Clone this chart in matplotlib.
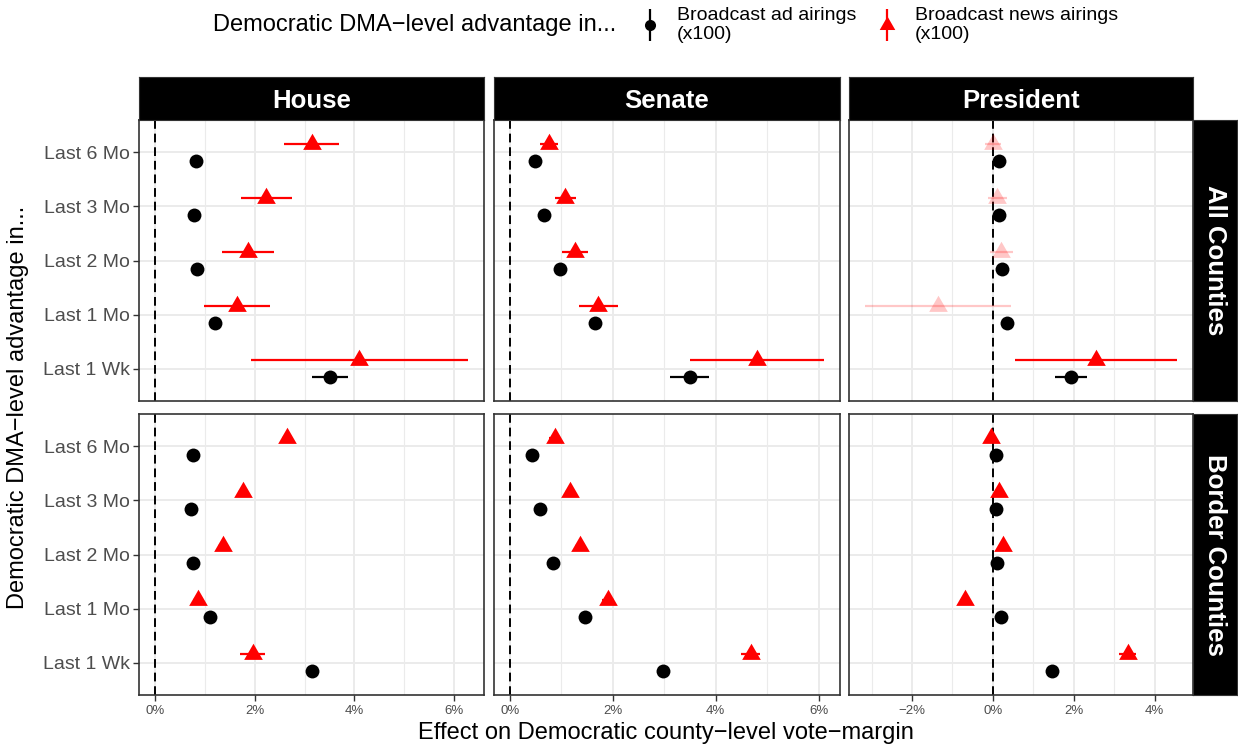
import matplotlib
matplotlib.use("Agg")
import matplotlib.pyplot as plt
from matplotlib.lines import Line2D
from matplotlib.path import Path
from matplotlib.ticker import FixedLocator, FuncFormatter
import numpy as np

plt.rcParams['font.family'] = ['Liberation Sans', 'DejaVu Sans']

periods = ["Last 6 Mo", "Last 3 Mo", "Last 2 Mo", "Last 1 Mo", "Last 1 Wk"]
offices = ["House", "Senate", "President"]
samples = ["All Counties", "Border Counties"]

# estimates in % and half-width of the interval, all counties
ad_all = {"House": [0.82, 0.78, 0.84, 1.20, 3.51],
          "Senate": [0.50, 0.66, 0.98, 1.65, 3.50],
          "President": [0.15, 0.15, 0.23, 0.36, 1.93]}
ad_all_err = {"House": [0.08, 0.08, 0.08, 0.10, 0.37],
              "Senate": [0.06, 0.06, 0.07, 0.08, 0.38],
              "President": [0.05, 0.05, 0.06, 0.08, 0.39]}
news_all = {"House": [3.14, 2.23, 1.86, 1.65, 4.10],
            "Senate": [0.76, 1.08, 1.27, 1.72, 4.81],
            "President": [0.01, 0.11, 0.21, -1.36, 2.55]}
news_all_err = {"House": [0.55, 0.51, 0.52, 0.66, 2.18],
                "Senate": [0.18, 0.21, 0.25, 0.38, 1.30],
                "President": [0.20, 0.23, 0.28, 1.81, 2.01]}

# border counties
ad_border = {"House": [0.77, 0.72, 0.77, 1.10, 3.14],
             "Senate": [0.44, 0.59, 0.85, 1.46, 2.98],
             "President": [0.07, 0.07, 0.11, 0.21, 1.46]}
ad_border_err = {"House": [0.05, 0.05, 0.05, 0.06, 0.08],
                 "Senate": [0.05, 0.05, 0.05, 0.06, 0.08],
                 "President": [0.03, 0.03, 0.03, 0.04, 0.06]}
news_border = {"House": [2.65, 1.76, 1.36, 0.86, 1.96],
               "Senate": [0.87, 1.17, 1.36, 1.91, 4.68],
               "President": [-0.04, 0.15, 0.25, -0.68, 3.33]}
news_border_err = {"House": [0.10, 0.10, 0.10, 0.10, 0.25],
                   "Senate": [0.10, 0.10, 0.10, 0.12, 0.18],
                   "President": [0.03, 0.08, 0.10, 0.10, 0.21]}

ad_data = [(ad_all, ad_all_err), (ad_border, ad_border_err)]
news_data = [(news_all, news_all_err), (news_border, news_border_err)]

W, H = 1238, 748
fig = plt.figure(figsize=(W / 100, H / 100), dpi=100)


def px_axes(x0, y0, x1, y1):
    return fig.add_axes([x0 / W, 1 - y1 / H, (x1 - x0) / W, (y1 - y0) / H])


col_px = [(139, 484), (494, 840), (849, 1193)]
row_px = [(120, 401), (414, 695)]

# equilateral triangle centred on its centroid, like ggplot shape 17
tri = Path([(0, 1), (-0.866, -0.5), (0.866, -0.5), (0, 1)],
           [Path.MOVETO, Path.LINETO, Path.LINETO, Path.CLOSEPOLY])

pct = FuncFormatter(lambda v, p: f"{v:.0f}%".replace("-", "\u2212"))
ypos = np.arange(len(periods))
dodge = 0.16

for c, office in enumerate(offices):
    # x range shared down the column (free x scales), 0 included, 5% expansion
    vals = [0.0]
    for d in ad_data + news_data:
        est = np.array(d[0][office])
        err = np.array(d[1][office])
        vals += list(est - err) + list(est + err)
    lo, hi = min(vals), max(vals)
    pad = 0.05 * (hi - lo)
    xlim = (lo - pad, hi + pad)
    major = [t for t in range(-10, 11, 2) if xlim[0] <= t <= xlim[1]]
    minor = [t for t in range(-9, 11, 2) if xlim[0] <= t <= xlim[1]]

    for r, sample in enumerate(samples):
        ax = px_axes(col_px[c][0], row_px[r][0], col_px[c][1], row_px[r][1])
        ax.set_xlim(xlim)
        ax.set_ylim(len(periods) - 0.4, -0.6)
        ax.set_axisbelow(True)
        ax.xaxis.set_major_locator(FixedLocator(major))
        ax.xaxis.set_minor_locator(FixedLocator(minor))
        ax.xaxis.set_major_formatter(pct)
        ax.set_yticks(ypos)
        ax.set_yticklabels(periods)
        ax.grid(which='major', color='#EBEBEB', lw=1.4)
        ax.grid(which='minor', axis='x', color='#EBEBEB', lw=0.8)
        for s in ax.spines.values():
            s.set_color('#333333')
            s.set_linewidth(1.2)

        ax.axvline(0, color='black', ls=(0, (4.5, 2.5)), lw=1.4, zorder=2)

        a_est = np.array(ad_data[r][0][office])
        a_err = np.array(ad_data[r][1][office])
        n_est = np.array(news_data[r][0][office])
        n_err = np.array(news_data[r][1][office])

        for i in range(len(periods)):
            y = ypos[i] + dodge
            ax.hlines(y, a_est[i] - a_err[i], a_est[i] + a_err[i],
                      color='black', lw=1.6, zorder=3)
            ax.plot(a_est[i], y, 'o', color='black', ms=10, mew=0, zorder=4)

            y = ypos[i] - dodge
            sig = (n_est[i] - n_err[i] > 0) or (n_est[i] + n_err[i] < 0)
            alpha = 1.0 if sig else 0.22
            ax.hlines(y, n_est[i] - n_err[i], n_est[i] + n_err[i],
                      color='red', lw=1.6, alpha=alpha, zorder=3)
            ax.plot(n_est[i], y, marker=tri, ls='', color='red', ms=15.5,
                    mew=0, alpha=alpha, zorder=4)

        ax.tick_params(axis='y', length=4, width=1, color='#333333',
                       labelsize=14, labelcolor='#4D4D4D', pad=2.5)
        ax.tick_params(axis='x', which='major', length=4, width=1,
                       color='#333333', labelsize=9.5, labelcolor='#4D4D4D', pad=3)
        ax.tick_params(axis='x', which='minor', length=0)
        if c > 0:
            ax.tick_params(axis='y', left=False, labelleft=False)
        if r == 0:
            ax.tick_params(axis='x', which='both', bottom=False, labelbottom=False)

    # column strip
    sx = px_axes(col_px[c][0], 77, col_px[c][1], 120)
    sx.set_facecolor('black')
    sx.set_xticks([])
    sx.set_yticks([])
    for s in sx.spines.values():
        s.set_color('#333333')
    sx.text(0.5, 0.45, office, color='white', fontsize=18.5, fontweight='bold',
            ha='center', va='center', transform=sx.transAxes)

# row strips
for r, sample in enumerate(samples):
    sy = px_axes(1193, row_px[r][0], 1237, row_px[r][1])
    sy.set_facecolor('black')
    sy.set_xticks([])
    sy.set_yticks([])
    for s in sy.spines.values():
        s.set_color('#333333')
    sy.text(0.5, 0.5, sample, color='white', fontsize=18.5, fontweight='bold',
            ha='center', va='center', rotation=-90, transform=sy.transAxes)

# axis titles
fig.text(666 / W, 1 - 733 / H, "Effect on Democratic county\u2212level vote\u2212margin",
         ha='center', va='center', fontsize=17)
fig.text(18 / W, 1 - 407 / H, "Democratic DMA\u2212level advantage in...",
         ha='center', va='center', rotation=90, fontsize=17)

# legend on top
fig.text(213 / W, 1 - 25 / H, "Democratic DMA\u2212level advantage in...",
         ha='left', va='center', fontsize=17)
h_ad = (Line2D([], [], color='black', marker='|', ms=23, mew=1.6, ls=''),
        Line2D([], [], color='black', marker='o', ms=8, mew=0, ls=''))
h_news = (Line2D([], [], color='red', marker='|', ms=23, mew=1.6, ls=''),
          Line2D([], [], color='red', marker=tri, ms=13, mew=0, ls=''))
fig.legend([h_ad, h_news],
           ["Broadcast ad airings\n(x100)", "Broadcast news airings\n(x100)"],
           loc='center left', bbox_to_anchor=(640 / W, 1 - 25 / H), ncol=2,
           frameon=False, fontsize=14, handlelength=1.0, handletextpad=0.9,
           columnspacing=1.1, borderaxespad=0, borderpad=0)

fig.savefig("out.png", dpi=100)
